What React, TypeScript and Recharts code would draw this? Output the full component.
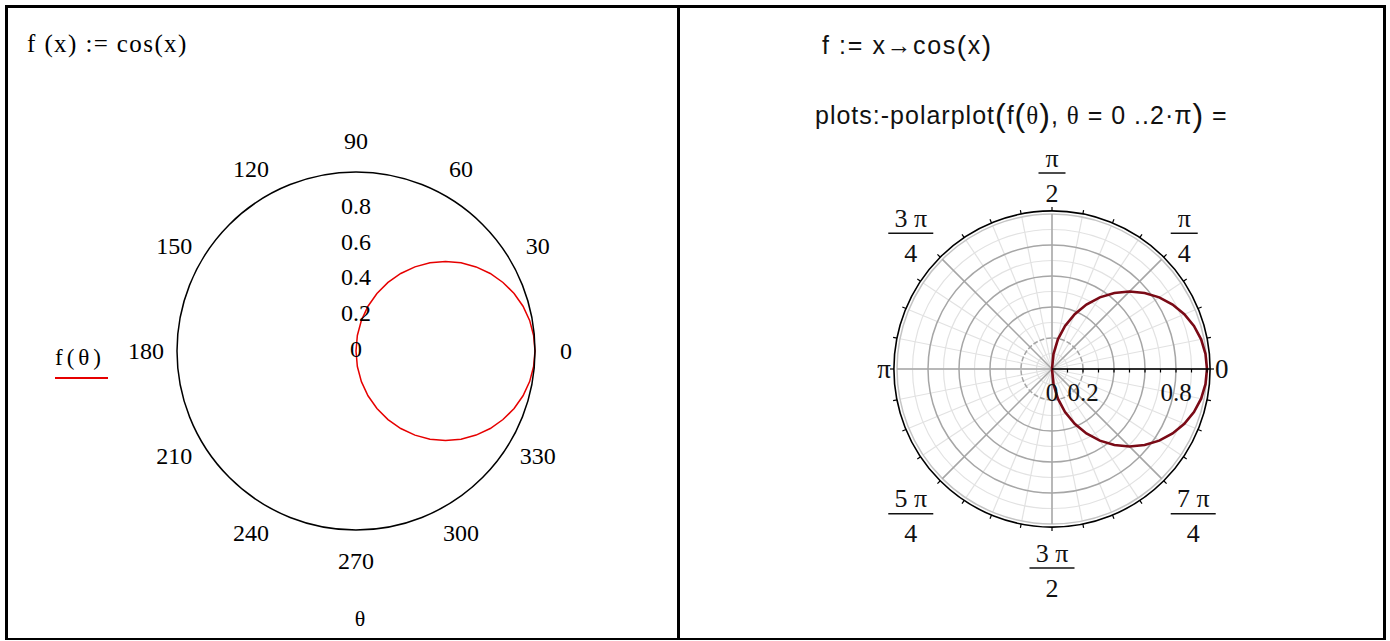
import { PolarAngleAxis, PolarGrid, PolarRadiusAxis, Radar, RadarChart } from "recharts"

const mathcadAngles = [
  0, 5, 10, 15, 20, 25, 30, 35, 40, 45, 50, 55, 60, 65, 70, 75, 80, 85,
  90, 95, 100, 105, 110, 115, 120, 125, 130, 135, 140, 145, 150, 155, 160, 165, 170, 175,
  180, 185, 190, 195, 200, 205, 210, 215, 220, 225, 230, 235, 240, 245, 250, 255, 260, 265,
  270, 275, 280, 285, 290, 295, 300, 305, 310, 315, 320, 325, 330, 335, 340, 345, 350, 355,
]
const mathcadR = [
  1, 0.996, 0.985, 0.966, 0.94, 0.906, 0.866, 0.819, 0.766, 0.707, 0.643, 0.574, 0.5, 0.423, 0.342, 0.259, 0.174, 0.087,
  0, 0, 0, 0, 0, 0, 0, 0, 0, 0, 0, 0, 0, 0, 0, 0, 0, 0,
  0, 0, 0, 0, 0, 0, 0, 0, 0, 0, 0, 0, 0, 0, 0, 0, 0, 0,
  0, 0.087, 0.174, 0.259, 0.342, 0.423, 0.5, 0.574, 0.643, 0.707, 0.766, 0.819, 0.866, 0.906, 0.94, 0.966, 0.985, 0.996,
]
const mathcadTickAngles = [0, 30, 60, 90, 120, 150, 180, 210, 240, 270, 300, 330]

// Maple panel: same curve, sampled every π/32
const mapleAngles = [
  0, 5.625, 11.25, 16.875, 22.5, 28.125, 33.75, 39.375, 45, 50.625, 56.25, 61.875, 67.5, 73.125, 78.75, 84.375,
  90, 95.625, 101.25, 106.875, 112.5, 118.125, 123.75, 129.375, 135, 140.625, 146.25, 151.875, 157.5, 163.125, 168.75, 174.375,
  180, 185.625, 191.25, 196.875, 202.5, 208.125, 213.75, 219.375, 225, 230.625, 236.25, 241.875, 247.5, 253.125, 258.75, 264.375,
  270, 275.625, 281.25, 286.875, 292.5, 298.125, 303.75, 309.375, 315, 320.625, 326.25, 331.875, 337.5, 343.125, 348.75, 354.375,
]
const mapleR = [
  1, 0.995, 0.981, 0.957, 0.924, 0.882, 0.832, 0.773, 0.707, 0.634, 0.556, 0.471, 0.383, 0.29, 0.195, 0.098,
  0, 0, 0, 0, 0, 0, 0, 0, 0, 0, 0, 0, 0, 0, 0, 0,
  0, 0, 0, 0, 0, 0, 0, 0, 0, 0, 0, 0, 0, 0, 0, 0,
  0, 0.098, 0.195, 0.29, 0.383, 0.471, 0.556, 0.634, 0.707, 0.773, 0.832, 0.882, 0.924, 0.957, 0.981, 0.995,
]
const mapleTickAngles = [0, 45, 90, 135, 180, 225, 270, 315]
const mapleTickNum = ["0", "π", "π", "3 π", "π", "5 π", "3 π", "7 π"]
const mapleTickDen = ["", "4", "2", "4", "", "4", "2", "4"]
const mapleRadiusLabels = [0, 0.2, 0.8]
const mapleMinorRings = [0.1, 0.3, 0.5, 0.7, 0.9]
const mapleMajorRings = [0.4, 0.6, 0.8]

// recharts walks categories clockwise from startAngle, so list them 0, then downwards
const ccw = <T,>(rows: T[]) => [rows[0], ...rows.slice(1).reverse()]
const mathcadData = ccw(mathcadAngles.map((angle, i) => ({ angle, r: mathcadR[i] })))
const mapleData = ccw(mapleAngles.map((angle, i) => ({ angle, r: mapleR[i] })))

const SERIF = "'Liberation Serif', 'Times New Roman', serif"
const SANS = "'Liberation Sans', Arial, sans-serif"
const RAD = Math.PI / 180
const MAPLE_R = 155

function MathcadAngleTick(props: any) {
  const { x, y, payload } = props
  if (!mathcadTickAngles.includes(payload.value)) return <g />
  return (
    <text x={x} y={y} textAnchor="middle" dominantBaseline="central" fontFamily={SERIF} fontSize={24} fill="#000">
      {payload.value}
    </text>
  )
}

function MathcadRadiusTick(props: any) {
  const { x, y, payload } = props
  if (payload.value >= 1) return <g />
  return (
    <text x={x} y={y - 2} textAnchor="middle" dominantBaseline="central" fontFamily={SERIF} fontSize={24} fill="#000">
      {payload.value}
    </text>
  )
}

function MapleAngleTick(props: any) {
  const { x, y, payload, index } = props
  const a = payload.coordinate * RAD
  const c = Math.cos(a)
  const s = Math.sin(a)
  const mark =
    index % 2 === 0 ? (
      <line x1={x} y1={y} x2={x + c * 4} y2={y - s * 4} stroke="#000" strokeWidth={1.2} />
    ) : null
  const li = mapleTickAngles.indexOf(payload.value)
  if (li < 0) return <g>{mark}</g>
  const num = mapleTickNum[li]
  const den = mapleTickDen[li]
  if (!den) {
    return (
      <g>
        {mark}
        <text
          x={x + (c > 0 ? 5 : -3)}
          y={y}
          textAnchor={c > 0 ? "start" : "end"}
          dominantBaseline="central"
          fontFamily={SERIF}
          fontSize={27}
          fill="#111"
        >
          {num}
        </text>
      </g>
    )
  }
  const w = num.length > 1 ? 45 : 27
  let fx = x
  let ly = y + (s > 0 ? -38 : 41)
  if (Math.abs(c) > 0.01) {
    fx = c > 0 ? x + 7 + w / 2 : x - 7 - w / 2
    ly = y + (s > 0 ? -24 : 33)
  }
  return (
    <g>
      {mark}
      <text x={fx} y={ly - 15} textAnchor="middle" dominantBaseline="central" fontFamily={SERIF} fontSize={26} fill="#111">
        {num}
      </text>
      <line x1={fx - w / 2} y1={ly} x2={fx + w / 2} y2={ly} stroke="#111" strokeWidth={1.5} />
      <text x={fx} y={ly + 20} textAnchor="middle" dominantBaseline="central" fontFamily={SERIF} fontSize={26} fill="#111">
        {den}
      </text>
    </g>
  )
}

function MapleRadiusTick(props: any) {
  const { x, y, payload } = props
  const v = payload.value
  const show = mapleRadiusLabels.some((l) => Math.abs(l - v) < 1e-6)
  return (
    <g>
      {v > 0 && <line x1={x} y1={y} x2={x} y2={y + 3.5} stroke="#000" strokeWidth={1.2} />}
      {Math.abs(v - 1) < 1e-6 && <line x1={x} y1={y} x2={x + 3} y2={y} stroke="#000" strokeWidth={1.6} />}
      {show && (
        <text x={x} y={y + 23} textAnchor="middle" dominantBaseline="central" fontFamily={SERIF} fontSize={25} fill="#111">
          {v}
        </text>
      )}
    </g>
  )
}

export default function App() {
  return (
    <div style={{ position: "absolute", left: 0, top: 0, width: 1390, height: 641, background: "#fff" }}>
      <div style={{ position: "absolute", left: 0, top: 0 }}>
        <RadarChart
          width={679}
          height={641}
          data={mathcadData}
          cx={356}
          cy={351}
          outerRadius={179}
          startAngle={360}
          endAngle={0}
          margin={{ top: 0, right: 0, bottom: 0, left: 0 }}
        >
          <PolarRadiusAxis
            angle={90}
            domain={[0, 1]}
            tickCount={6}
            allowDecimals
            axisLine={false}
            tick={MathcadRadiusTick}
          />
          <Radar
            dataKey="r"
            stroke="#e60000"
            strokeWidth={1.5}
            fill="none"
            fillOpacity={0}
            dot={false}
            isAnimationActive={false}
          />
          <PolarAngleAxis
            dataKey="angle"
            axisLineType="circle"
            axisLine={{ stroke: "#000", strokeWidth: 1.5 }}
            stroke="#000"
            tickLine={false}
            tickSize={31}
            tick={MathcadAngleTick}
          />
        </RadarChart>
      </div>

      <div style={{ position: "absolute", left: 680, top: 0 }}>
        <RadarChart
          width={706}
          height={641}
          data={mapleData}
          cx={372}
          cy={369}
          outerRadius={MAPLE_R}
          startAngle={360}
          endAngle={0}
          margin={{ top: 0, right: 0, bottom: 0, left: 0 }}
        >
          <PolarGrid
            gridType="circle"
            polarRadius={mapleMinorRings.map((v) => v * MAPLE_R)}
            polarAngles={mapleAngles.filter((_, i) => i % 2 === 0)}
            stroke="#e2e2e2"
            strokeWidth={1.2}
          />
          <PolarGrid gridType="circle" radialLines={false} polarAngles={[]} polarRadius={[MAPLE_R]} stroke="#c4c4c4" strokeWidth={1.5} />
          <PolarGrid
            gridType="circle"
            polarRadius={mapleMajorRings.map((v) => v * MAPLE_R)}
            polarAngles={mapleTickAngles}
            stroke="#a6a6a6"
            strokeWidth={1.5}
          />
          <PolarGrid
            gridType="circle"
            radialLines={false}
            polarAngles={[]}
            polarRadius={[0.2 * MAPLE_R]}
            stroke="#a6a6a6"
            strokeWidth={1.5}
            strokeDasharray="5 2"
          />
          <PolarGrid gridType="circle" radialLines={false} polarAngles={[]} polarRadius={[MAPLE_R * 1.02]} stroke="#000" strokeWidth={1.6} />
          <PolarRadiusAxis
            angle={0}
            domain={[0, 1]}
            tickCount={11}
            allowDecimals
            axisLine={{ stroke: "#000", strokeWidth: 1.6 }}
            stroke="#000"
            tick={MapleRadiusTick}
          />
          <Radar
            dataKey="r"
            stroke="#7a0a16"
            strokeWidth={2.6}
            fill="none"
            fillOpacity={0}
            dot={false}
            isAnimationActive={false}
          />
          <PolarAngleAxis
            dataKey="angle"
            axisLine={false}
            tickLine={false}
            tickSize={3}
            tick={MapleAngleTick}
          />
        </RadarChart>
      </div>

      <svg width={1390} height={641} style={{ position: "absolute", left: 0, top: 0, pointerEvents: "none" }}>
        <line x1={6.5} y1={5} x2={6.5} y2={640} stroke="#000" strokeWidth={3} />
        <line x1={5} y1={6.5} x2={1386} y2={6.5} stroke="#000" strokeWidth={3} />
        <line x1={1384.5} y1={5} x2={1384.5} y2={640} stroke="#000" strokeWidth={3} />
        <line x1={5} y1={639} x2={1386} y2={639} stroke="#000" strokeWidth={2} />
        <line x1={678.5} y1={5} x2={678.5} y2={640} stroke="#000" strokeWidth={3} />

        <text x={27} y={43} dominantBaseline="central" fontFamily={SERIF} fontSize={25} letterSpacing={1.4} fill="#000">
          f (x) := cos(x)
        </text>
        <text x={55} y={357} dominantBaseline="central" fontFamily={SERIF} fontSize={23} letterSpacing={4} fill="#000">
          f(θ)
        </text>
        <line x1={55} y1={378} x2={108} y2={378} stroke="#e60000" strokeWidth={2} />
        <text x={360} y={618} textAnchor="middle" dominantBaseline="central" fontFamily={SERIF} fontSize={22} fill="#000">
          θ
        </text>

        <text x={822} y={45} dominantBaseline="central" fontFamily={SANS} fontSize={25} letterSpacing={1.6} fill="#111">
          f := x→cos
          <tspan fontSize={28}>(</tspan>x<tspan fontSize={28}>)</tspan>
        </text>
        <text x={815} y={115} dominantBaseline="central" fontFamily={SANS} fontSize={25} letterSpacing={1} fill="#111">
          plots:-polarplot<tspan fontSize={32}>(</tspan>f<tspan fontSize={32}>(</tspan>
          <tspan fontFamily={SERIF}>θ</tspan>
          <tspan fontSize={32}>)</tspan>, <tspan fontFamily={SERIF}>θ</tspan> = 0 ..2·π<tspan fontSize={32}>)</tspan> =
        </text>
      </svg>
    </div>
  )
}
